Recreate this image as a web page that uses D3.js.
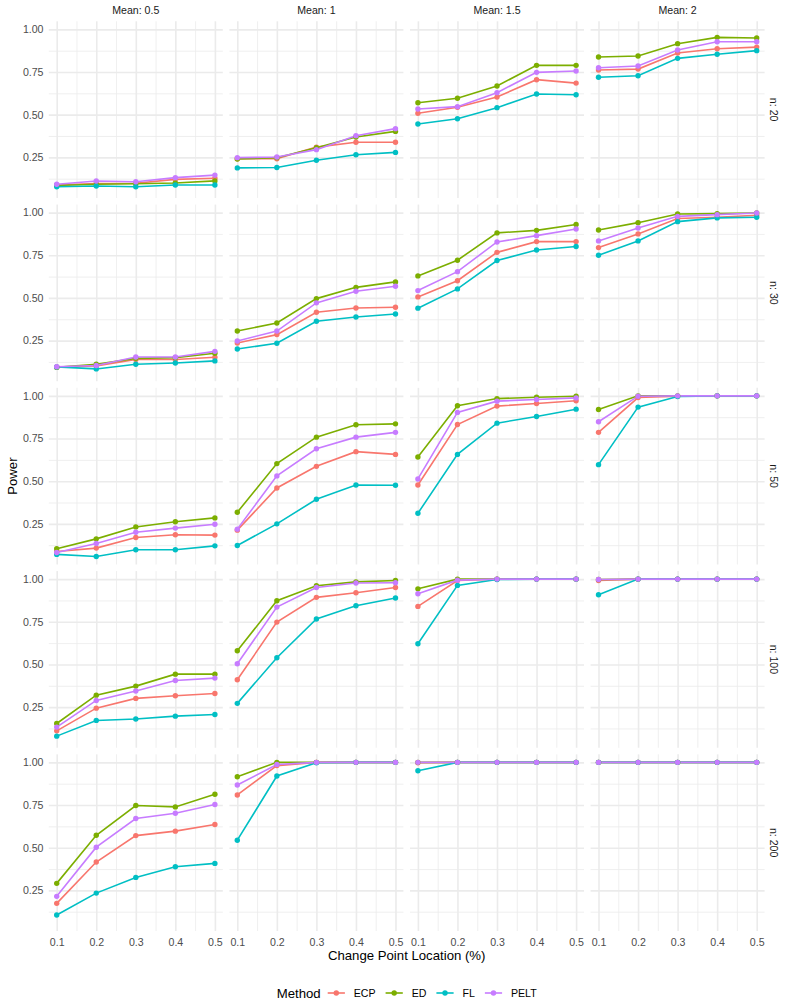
<!DOCTYPE html>
<html>
<head>
<meta charset="utf-8">
<script src="https://cdn.jsdelivr.net/npm/d3@7"></script>
<style>
  body { margin: 0; background: #fff; }
  text { font-family: "Liberation Sans", Arial, sans-serif; }
</style>
</head>
<body>
<div id="chart"></div>
<script>
// facets and series
var methods = ["ECP", "ED", "FL", "PELT"];
var colors = ["#F8766D", "#7CAE00", "#00BFC4", "#C77CFF"];
var means = ["0.5", "1", "1.5", "2"];
var sizes = ["20", "30", "50", "100", "200"];
var locations = [0.1, 0.2, 0.3, 0.4, 0.5];
var yTicks = [0.25, 0.50, 0.75, 1.00];

// power per n: [mean][method] -> values at each location
var power20 = [
  [[0.088, 0.096, 0.098, 0.121, 0.127], [0.085, 0.092, 0.095, 0.100, 0.112], [0.078, 0.082, 0.078, 0.088, 0.088], [0.092, 0.111, 0.107, 0.131, 0.146]],
  [[0.242, 0.242, 0.310, 0.338, 0.338], [0.240, 0.248, 0.306, 0.369, 0.402], [0.188, 0.190, 0.233, 0.265, 0.279], [0.248, 0.252, 0.295, 0.377, 0.418]],
  [[0.508, 0.543, 0.603, 0.705, 0.685], [0.570, 0.596, 0.668, 0.789, 0.789], [0.445, 0.476, 0.541, 0.621, 0.617], [0.533, 0.547, 0.629, 0.748, 0.756]],
  [[0.762, 0.767, 0.861, 0.886, 0.896], [0.838, 0.844, 0.916, 0.953, 0.949], [0.719, 0.728, 0.830, 0.854, 0.875], [0.775, 0.785, 0.879, 0.927, 0.927]]
];
var power30 = [
  [[0.095, 0.102, 0.139, 0.139, 0.152], [0.093, 0.111, 0.146, 0.150, 0.176], [0.096, 0.084, 0.111, 0.119, 0.131], [0.097, 0.104, 0.154, 0.154, 0.187]],
  [[0.236, 0.285, 0.416, 0.441, 0.445], [0.306, 0.353, 0.496, 0.562, 0.594], [0.201, 0.234, 0.363, 0.388, 0.406], [0.248, 0.306, 0.471, 0.539, 0.568]],
  [[0.506, 0.601, 0.767, 0.830, 0.830], [0.629, 0.721, 0.881, 0.896, 0.930], [0.440, 0.553, 0.719, 0.781, 0.801], [0.543, 0.654, 0.828, 0.865, 0.904]],
  [[0.795, 0.875, 0.965, 0.973, 0.984], [0.898, 0.941, 0.992, 0.994, 0.998], [0.750, 0.834, 0.947, 0.969, 0.973], [0.834, 0.910, 0.978, 0.988, 0.998]]
];
var power50 = [
  [[0.088, 0.108, 0.170, 0.186, 0.184], [0.104, 0.162, 0.232, 0.262, 0.285], [0.071, 0.059, 0.098, 0.098, 0.121], [0.082, 0.135, 0.201, 0.225, 0.248]],
  [[0.213, 0.460, 0.587, 0.673, 0.657], [0.318, 0.603, 0.758, 0.831, 0.836], [0.123, 0.250, 0.394, 0.478, 0.476], [0.219, 0.531, 0.690, 0.758, 0.786]],
  [[0.478, 0.832, 0.940, 0.955, 0.971], [0.642, 0.942, 0.984, 0.992, 0.998], [0.312, 0.657, 0.840, 0.879, 0.922], [0.513, 0.903, 0.969, 0.979, 0.988]],
  [[0.786, 0.990, 0.998, 1.000, 1.000], [0.920, 1.000, 1.000, 1.000, 1.000], [0.597, 0.934, 0.996, 1.000, 1.000], [0.848, 0.998, 1.000, 1.000, 1.000]]
];
var power100 = [
  [[0.111, 0.244, 0.301, 0.317, 0.330], [0.154, 0.320, 0.373, 0.443, 0.443], [0.080, 0.172, 0.180, 0.197, 0.207], [0.133, 0.289, 0.344, 0.406, 0.420]],
  [[0.410, 0.748, 0.893, 0.920, 0.951], [0.580, 0.873, 0.961, 0.984, 0.992], [0.272, 0.539, 0.766, 0.844, 0.889], [0.504, 0.836, 0.951, 0.977, 0.979]],
  [[0.840, 0.992, 1.000, 1.000, 1.000], [0.943, 1.000, 1.000, 1.000, 1.000], [0.621, 0.963, 0.998, 1.000, 1.000], [0.914, 0.994, 1.000, 1.000, 1.000]],
  [[0.992, 1.000, 1.000, 1.000, 1.000], [0.998, 1.000, 1.000, 1.000, 1.000], [0.908, 1.000, 1.000, 1.000, 1.000], [0.998, 1.000, 1.000, 1.000, 1.000]]
];
var power200 = [
  [[0.174, 0.416, 0.571, 0.597, 0.636], [0.291, 0.573, 0.747, 0.739, 0.813], [0.106, 0.234, 0.326, 0.388, 0.408], [0.215, 0.503, 0.671, 0.702, 0.753]],
  [[0.809, 0.981, 1.000, 1.000, 1.000], [0.916, 1.000, 1.000, 1.000, 1.000], [0.544, 0.920, 0.998, 1.000, 1.000], [0.867, 0.988, 1.000, 1.000, 1.000]],
  [[0.998, 1.000, 1.000, 1.000, 1.000], [1.000, 1.000, 1.000, 1.000, 1.000], [0.951, 1.000, 1.000, 1.000, 1.000], [1.000, 1.000, 1.000, 1.000, 1.000]],
  [[1.000, 1.000, 1.000, 1.000, 1.000], [1.000, 1.000, 1.000, 1.000, 1.000], [1.000, 1.000, 1.000, 1.000, 1.000], [1.000, 1.000, 1.000, 1.000, 1.000]]
];
var powerByN = [power20, power30, power50, power100, power200];

var W = 785, H = 1005;
var padL = 48.8, padR = 764.6, padT = 21.3, padB = 931;
var gap = 6.6;
var pw = (padR - padL - 3 * gap) / 4;
var ph = (padB - padT - 4 * gap) / 5;

var svg = d3.select("#chart").append("svg")
    .attr("width", W)
    .attr("height", H);

// shared y scale, ggplot style 5% expansion
var allVals = powerByN.flat(3);
var ymin = d3.min(allVals), ymax = d3.max(allVals);
var ypad = (ymax - ymin) * 0.05;
var y = d3.scaleLinear().domain([ymin - ypad, ymax + ypad]).range([ph, 0]);
var x = d3.scaleLinear().domain([0.08, 0.52]).range([0, pw]);

var xMinor = [0.15, 0.25, 0.35, 0.45];
var yMinor = [0.125, 0.375, 0.625, 0.875];

var line = d3.line()
    .x(function(d, i) { return x(locations[i]); })
    .y(function(d) { return y(d); });

function styleGrid(a, w) {
  a.select(".domain").remove();
  a.selectAll("line").attr("stroke", "#EBEBEB").attr("stroke-width", w);
}
function styleLabels(a) {
  a.select(".domain").remove();
  a.selectAll("text")
    .attr("fill", "#4D4D4D")
    .style("font-size", "10.6px")
    .style("font-family", "Liberation Sans, Arial, sans-serif");
}

sizes.forEach(function(n, r) {
  means.forEach(function(m, c) {
    var g = svg.append("g")
        .attr("transform", "translate(" + (padL + c * (pw + gap)) + "," + (padT + r * (ph + gap)) + ")");

    // grid lines, minor then major
    g.append("g").call(d3.axisLeft(y).tickValues(yMinor).tickSize(-pw).tickFormat(""))
      .call(styleGrid, 0.8);
    g.append("g").attr("transform", "translate(0," + ph + ")")
      .call(d3.axisBottom(x).tickValues(xMinor).tickSize(-ph).tickFormat(""))
      .call(styleGrid, 0.8);
    g.append("g").call(d3.axisLeft(y).tickValues(yTicks).tickSize(-pw).tickFormat(""))
      .call(styleGrid, 1.6);
    g.append("g").attr("transform", "translate(0," + ph + ")")
      .call(d3.axisBottom(x).tickValues(locations).tickSize(-ph).tickFormat(""))
      .call(styleGrid, 1.6);

    // tick labels on outer panels only
    if (c === 0) {
      g.append("g")
        .call(d3.axisLeft(y).tickValues(yTicks).tickSize(0).tickPadding(5.3).tickFormat(d3.format(".2f")))
        .call(styleLabels);
    }
    if (r === sizes.length - 1) {
      g.append("g").attr("transform", "translate(0," + ph + ")")
        .call(d3.axisBottom(x).tickValues(locations).tickSize(0).tickPadding(7).tickFormat(d3.format(".1f")))
        .call(styleLabels);
    }

    var series = powerByN[r][c];
    series.forEach(function(vals, k) {
      g.append("path")
        .attr("d", line(vals))
        .attr("fill", "none")
        .attr("stroke", colors[k])
        .attr("stroke-width", 1.6);
    });
    series.forEach(function(vals, k) {
      g.selectAll(".pt" + k)
        .data(vals)
        .enter()
        .append("circle")
          .attr("class", "pt" + k)
          .attr("cx", function(d, i) { return x(locations[i]); })
          .attr("cy", function(d) { return y(d); })
          .attr("r", 2.7)
          .attr("fill", colors[k]);
    });

    // strips
    if (r === 0) {
      svg.append("text")
        .attr("x", padL + c * (pw + gap) + pw / 2)
        .attr("y", 14.4)
        .attr("text-anchor", "middle")
        .attr("fill", "#1A1A1A")
        .style("font-size", "10.6px")
        .text("Mean: " + m);
    }
  });

  svg.append("text")
    .attr("transform", "translate(773.3," + (padT + r * (ph + gap) + ph / 2) + ") rotate(90)")
    .attr("text-anchor", "middle")
    .attr("dy", "0.35em")
    .attr("fill", "#1A1A1A")
    .style("font-size", "10.6px")
    .text("n: " + n);
});

// axis titles
svg.append("text")
  .attr("x", (padL + padR) / 2)
  .attr("y", 959.5)
  .attr("text-anchor", "middle")
  .style("font-size", "13.2px")
  .text("Change Point Location (%)");

svg.append("text")
  .attr("transform", "translate(12," + (padT + padB) / 2 + ") rotate(-90)")
  .attr("text-anchor", "middle")
  .attr("dy", "0.35em")
  .style("font-size", "13.2px")
  .text("Power");

// legend
var leg = svg.append("g");
var ly = 993;
var title = leg.append("text")
  .attr("x", 0).attr("y", ly).attr("dy", "0.35em")
  .style("font-size", "13.2px")
  .text("Method");
var cx = title.node().getComputedTextLength() + 7;
methods.forEach(function(name, k) {
  var kc = cx + 8.6;
  leg.append("line")
    .attr("x1", kc - 8.6).attr("x2", kc + 8.6)
    .attr("y1", ly).attr("y2", ly)
    .attr("stroke", colors[k]).attr("stroke-width", 1.6);
  leg.append("circle")
    .attr("cx", kc).attr("cy", ly).attr("r", 2.7)
    .attr("fill", colors[k]);
  var t = leg.append("text")
    .attr("x", kc + 17.5).attr("y", ly).attr("dy", "0.35em")
    .style("font-size", "10.6px")
    .text(name);
  cx = kc + 17.5 + t.node().getComputedTextLength() + 10;
});
var lw = cx - 10;
leg.attr("transform", "translate(" + ((padL + padR) / 2 - lw / 2) + ",0)");
</script>
</body>
</html>
